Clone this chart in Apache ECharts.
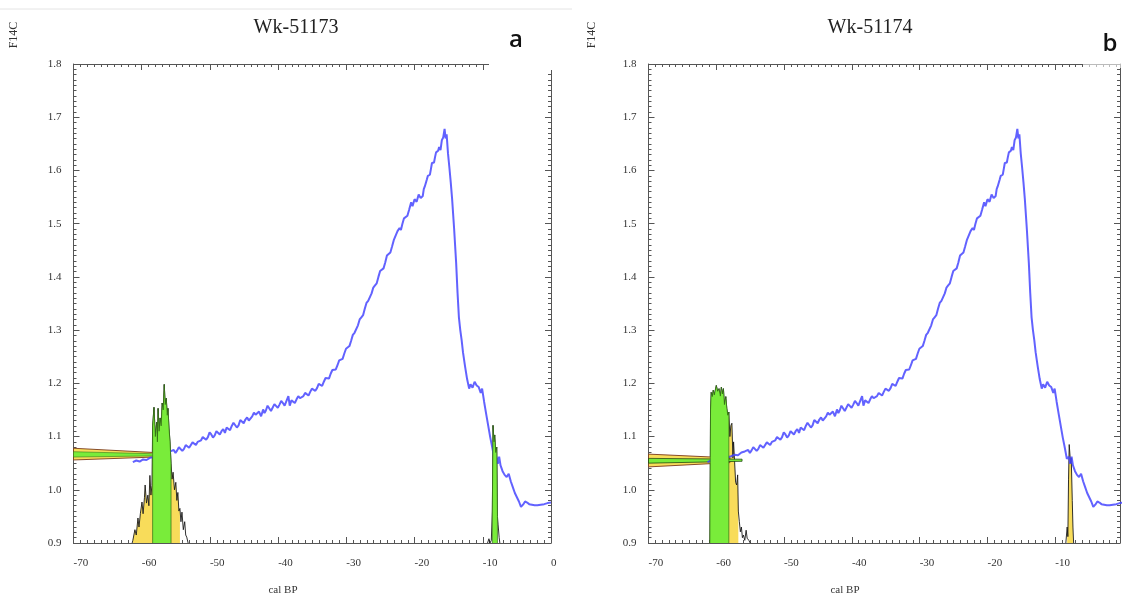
<!DOCTYPE html>
<html><head><meta charset="utf-8">
<script src="https://cdn.jsdelivr.net/npm/echarts@6/dist/echarts.min.js"></script>
<style>html,body{margin:0;padding:0;background:#fff}#c{width:1123px;height:596px}</style>
</head><body><div id="c"></div>
<script>
// ---------- data ----------
const titles = ['Wk-51173', 'Wk-51174'];
const panelTags = ['a', 'b'];
const xTickLabels = [-70, -60, -50, -40, -30, -20, -10, 0];
const yTickLabels = [0.9, 1.0, 1.1, 1.2, 1.3, 1.4, 1.5, 1.6, 1.7, 1.8];
const BASE = 0.9;

// calibration curve (cal BP, F14C)
const curveX = [-61.3,-60.8,-60.3,-59.8,-59.3,-58.8,-58.3,-57.8,-57.3,-56.8,-56.3,-55.8,
  -55.3,-55.05,-54.8,-54.55,-54.3,-54.05,-53.8,-53.55,-53.3,-53.05,-52.8,-52.55,-52.3,-52.05,-51.8,-51.55,-51.3,-51.05,-50.8,-50.55,-50.3,-50.05,
  -49.8,-49.55,-49.3,-49.05,-48.8,-48.55,-48.3,-48.05,-47.8,-47.55,-47.3,-47.05,-46.8,-46.55,-46.3,-46.05,-45.8,-45.55,-45.3,-45.05,
  -44.8,-44.55,-44.3,-44.05,-43.8,-43.55,-43.3,-43.05,-42.8,-42.5,-42.2,-42.0,-41.8,-41.55,-41.3,-41.05,-40.8,-40.55,-40.3,-40.05,
  -39.8,-39.55,-39.3,-39.05,-38.8,-38.5,-38.3,-38.05,-37.8,-37.55,-37.3,-37.05,-36.8,-36.55,-36.3,-36.05,-35.8,-35.55,-35.3,-35.05,
  -34.8,-34.55,-34.3,-34.05,-33.8,-33.55,-33.3,-33.05,-32.8,-32.55,-32.3,-32.05,-31.8,-31.55,-31.3,-31.05,-30.8,-30.55,-30.3,-30.05,
  -29.8,-29.55,-29.3,-29.05,-28.8,-28.55,-28.3,-28.05,-27.8,-27.55,-27.3,-27.05,-26.8,-26.55,-26.3,-26.05,-25.8,-25.55,-25.3,-25.05,
  -24.8,-24.55,-24.3,-24.05,-23.8,-23.55,-23.3,-23.05,-22.8,-22.5,-22.2,-22.0,-21.8,-21.55,-21.3,-21.05,-20.8,-20.5,-20.3,-20.0,
  -19.7,-19.4,-19.1,-18.8,-18.65,-18.5,-18.35,-18.2,-18.05,-17.9,-17.75,-17.6,-17.45,-17.3,-17.15,-17.0,-16.85,-16.7,-16.55,-16.4,-16.2,-16.0,
  -15.8,-15.6,-15.45,-15.3,-15.1,-14.9,-14.7,-14.5,-14.2,-13.9,-13.7,-13.5,-13.3,-13.1,-12.9,-12.6,-12.3,-12.0,-11.8,-11.5,-11.2,-10.9,-10.6,-10.3,-10.1,
  -9.8,-9.5,-9.2,-8.9,-8.6,-8.3,-8.0,-7.8,-7.6,-7.4,-7.1,-6.8,-6.5,-6.2,-5.9,-5.6,-5.3,-5.0,-4.7,-4.4,-4.1,-3.8,-3.5,-3.2,-2.8,-2.4,-2.0,-1.5,-1.0,-0.5,0];
const curveY = [1.052,1.055,1.053,1.057,1.056,1.060,1.061,1.063,1.066,1.065,1.070,1.072,
  1.075,1.069,1.074,1.080,1.078,1.073,1.077,1.084,1.081,1.079,1.082,1.089,1.086,1.084,1.090,1.088,1.093,1.099,1.096,1.094,1.099,1.108,
  1.104,1.098,1.102,1.110,1.108,1.104,1.110,1.114,1.107,1.117,1.115,1.112,1.120,1.126,1.123,1.117,1.121,1.131,1.128,1.125,
  1.132,1.136,1.130,1.133,1.138,1.145,1.141,1.139,1.147,1.138,1.151,1.144,1.149,1.158,1.155,1.148,1.151,1.161,1.158,1.154,
  1.160,1.167,1.163,1.158,1.161,1.176,1.158,1.168,1.166,1.163,1.170,1.176,1.172,1.169,1.176,1.182,1.179,1.177,1.184,1.190,
  1.188,1.186,1.191,1.199,1.197,1.195,1.203,1.210,1.211,1.209,1.218,1.225,1.226,1.226,1.234,1.243,1.245,1.246,1.256,1.265,
  1.268,1.270,1.280,1.291,1.295,1.298,1.309,1.320,1.324,1.328,1.340,1.351,1.355,1.358,1.369,1.380,1.384,1.388,1.400,1.411,
  1.414,1.416,1.427,1.440,1.443,1.446,1.457,1.469,1.471,1.486,1.492,1.488,1.499,1.510,1.512,1.515,1.526,1.540,1.533,1.546,
  1.541,1.555,1.548,1.552,1.565,1.570,1.569,1.583,1.590,1.592,1.592,1.603,1.614,1.612,1.615,1.625,1.634,1.631,1.637,1.644,1.638,1.657,
  1.662,1.678,1.660,1.668,1.632,1.606,1.578,1.547,1.490,1.425,1.370,1.324,1.300,1.281,1.258,1.232,1.208,1.190,1.198,1.192,1.203,1.196,1.193,1.182,1.190,
  1.165,1.142,1.120,1.098,1.079,1.058,1.062,1.049,1.062,1.046,1.035,1.028,1.024,1.030,1.016,1.005,0.994,0.986,0.978,0.968,0.972,0.978,0.976,0.973,0.972,0.971,0.971,0.972,0.973,0.975,0.976];

// panel a : posterior distribution (main range)
const distAX = [-61.4,-61.3,-61.0,-60.8,-60.55,-60.4,-60.2,-59.96,-59.8,-59.6,-59.5,-59.3,-59.1,-58.95,-58.8,-58.65,-58.5,-58.4,-58.2,-58.0,-57.8,-57.7,-57.6,-57.45,-57.3,-57.15,-57.0,-56.85,-56.7,-56.55,-56.4,-56.25,-56.15,-56.0,-55.85,-55.7,-55.55,-55.4,-55.2,-55.0,-54.85,-54.7,-54.55,-54.4,-54.25,-54.1,-53.9,-53.7,-53.55,-53.4,-53.2];
const distAY = [0.900,0.905,0.925,0.915,0.947,0.930,0.955,0.977,0.955,0.985,1.009,0.975,0.990,0.970,1.027,0.990,1.008,1.120,1.155,1.100,1.127,1.090,1.153,1.110,1.135,1.120,1.163,1.150,1.198,1.160,1.172,1.140,1.153,1.116,1.090,1.050,1.020,1.033,1.000,1.014,0.980,0.995,0.960,0.965,0.940,0.958,0.925,0.940,0.915,0.911,0.900];
const rangeA95 = [-61.3, -54.4];
const rangeA68 = [-58.4, -55.7];
// panel a : posterior distribution (bomb-side range)
const distA2X = [-9.3,-9.1,-8.95,-8.75,-8.6,-8.5,-8.35,-8.25,-8.1,-7.95,-7.85,-7.75,-7.6,-7.5];
const distA2Y = [0.900,0.908,0.900,0.905,0.960,1.121,1.090,1.103,1.070,1.080,0.950,0.934,0.910,0.900];
const rangeA2 = [-8.6, -7.85];

// panel b : posterior distribution (main range)
const distBX = [-60.95,-60.85,-60.75,-60.6,-60.45,-60.3,-60.0,-59.8,-59.6,-59.4,-59.25,-59.1,-58.95,-58.8,-58.6,-58.45,-58.3,-58.15,-58.0,-57.85,-57.7,-57.55,-57.45,-57.3,-57.15,-57.0,-56.85,-56.75,-56.6,-56.45,-56.3,-56.15,-56.0,-55.8,-55.6,-55.45,-55.2,-55.0];
const distBY = [0.900,1.150,1.183,1.175,1.187,1.178,1.196,1.185,1.190,1.176,1.193,1.180,1.190,1.160,1.175,1.153,1.140,1.146,1.100,1.121,1.125,1.060,1.090,1.052,1.014,1.009,1.028,0.960,0.940,0.921,0.930,0.910,0.915,0.905,0.924,0.909,0.905,0.900];
const rangeB95 = [-60.95, -56.75];
const rangeB68 = [-60.95, -58.15];
// panel b : posterior distribution (bomb-side range)
const distB2X = [-8.45,-8.35,-8.25,-8.15,-8.05,-7.95,-7.85,-7.75,-7.65,-7.5,-7.4,-7.3];
const distB2Y = [0.900,0.915,0.930,0.912,1.020,1.085,1.088,1.050,1.060,0.980,0.930,0.900];
const rangeB2 = [-8.25, -7.4];

// measured F14C likelihood bands (x extent, outer top/bottom, inner top/bottom)
const bandAX = [-70, -56.0];
const bandAOuterTop = [1.078, 1.0685];
const bandAOuterBot = [1.056, 1.0625];
const bandAInnerTop = [1.0715, 1.067];
const bandAInnerBot = [1.0615, 1.064];
const bandBX = [-70, -58.0];
const bandBOuterTop = [1.067, 1.060];
const bandBOuterBot = [1.043, 1.051];
const bandBInnerX = [-70, -56.2];
const bandBInnerTop = [1.059, 1.0575];
const bandBInnerBot = [1.050, 1.0535];

// ---------- build ----------
const SERIF = 'Liberation Serif';
const AX = '#555';
const YELLOW = '#f8dc5a';
const GREEN = '#79ec3a';
const BLUE = '#4646ff';

function pairs(xs, ys) { return xs.map((x, i) => [x, ys[i]]); }
function seg(xs, ys, lo, hi) {
  const out = [[lo, BASE]];
  xs.forEach((x, i) => { if (x >= lo - 1e-9 && x <= hi + 1e-9) out.push([x, ys[i]]); });
  out.push([hi, BASE]);
  return out;
}
function xAx(gi, max, pos, labels) {
  return {
    type: 'value', gridIndex: gi, min: -70, max: max, interval: 10, position: pos,
    axisLine: { show: true, onZero: false, lineStyle: { color: AX, width: 1 } },
    axisTick: { show: true, inside: true, length: 6, lineStyle: { color: AX } },
    minorTick: { show: true, splitNumber: 10, length: 3, lineStyle: { color: AX } },
    splitLine: { show: false }, minorSplitLine: { show: false },
    axisLabel: {
      show: labels, align: 'left', margin: 15, fontFamily: SERIF, fontSize: 11, color: '#333',
      formatter: v => xTickLabels.indexOf(Math.round(v)) >= 0 && Math.abs(v - Math.round(v)) < 1e-6 ? String(Math.round(v)) : ''
    }
  };
}
function yAx(gi, pos, labels) {
  return {
    type: 'value', gridIndex: gi, min: 0.9, max: 1.8, interval: 0.1, position: pos,
    axisLine: { show: true, onZero: false, lineStyle: { color: AX, width: 1 } },
    axisTick: { show: true, inside: true, length: 6, lineStyle: { color: AX } },
    minorTick: { show: true, splitNumber: 10, length: 3, lineStyle: { color: AX } },
    splitLine: { show: false },
    axisLabel: { show: labels, margin: 12, fontFamily: SERIF, fontSize: 11, color: '#333',
      formatter: v => { const r = Math.round(v * 10) / 10; return yTickLabels.indexOf(r) >= 0 ? r.toFixed(1) : ''; } }
  };
}
function areaSeries(p, data, color, lineColor, lineW, z) {
  return {
    type: 'line', xAxisIndex: p * 2, yAxisIndex: p * 2, data: data, showSymbol: false, symbol: 'none',
    lineStyle: { color: lineColor, width: lineW }, areaStyle: { color: color, opacity: 1, origin: 'start' },
    z: z, silent: true, animation: false, clip: true
  };
}
function outlineSeries(p, data, z) {
  return {
    type: 'line', xAxisIndex: p * 2, yAxisIndex: p * 2, data: data, showSymbol: false, symbol: 'none',
    lineStyle: { color: '#1a1a1a', width: 0.9 }, z: z, silent: true, animation: false
  };
}
function bandSeries(p, xs, top, bot, fill, stroke, z) {
  return {
    type: 'custom', xAxisIndex: p * 2, yAxisIndex: p * 2, z: z, silent: true, animation: false,
    data: [[xs[0], top[0]]],
    renderItem: (params, api) => {
      const pts = [];
      xs.forEach((x, i) => pts.push(api.coord([x, top[i]])));
      for (let i = xs.length - 1; i >= 0; i--) pts.push(api.coord([xs[i], bot[i]]));
      return { type: 'polygon', shape: { points: pts }, style: { fill: fill, stroke: stroke, lineWidth: 0.9 } };
    }
  };
}
function curveSeries(p) {
  return {
    type: 'line', xAxisIndex: p * 2, yAxisIndex: p * 2, data: pairs(curveX, curveY), showSymbol: false, symbol: 'none',
    lineStyle: { color: BLUE, width: 2, opacity: 0.85 }, z: 5, silent: true, animation: false, clip: true
  };
}

const series = [];
// panel a
series.push(areaSeries(0, seg(distAX, distAY, rangeA95[0], rangeA95[1]), YELLOW, 'rgba(0,0,0,0)', 0, 2));
series.push(outlineSeries(0, pairs(distAX, distAY), 3));
series.push(outlineSeries(0, pairs(distA2X, distA2Y), 3));
series.push(bandSeries(0, bandAX, bandAOuterTop, bandAOuterBot, YELLOW, '#7a3a1c', 4));
series.push(bandSeries(0, bandAX, bandAInnerTop, bandAInnerBot, GREEN, 'rgba(40,110,20,0.6)', 4));
series.push(curveSeries(0));
series.push(areaSeries(0, seg(distAX, distAY, rangeA68[0], rangeA68[1]), GREEN, '#2f6d12', 0.7, 6));
series.push(areaSeries(0, seg(distA2X, distA2Y, rangeA2[0], rangeA2[1]), GREEN, '#2f6d12', 0.7, 6));
// panel b
series.push(areaSeries(1, seg(distBX, distBY, rangeB95[0], rangeB95[1]), YELLOW, 'rgba(0,0,0,0)', 0, 2));
series.push(areaSeries(1, seg(distB2X, distB2Y, rangeB2[0], rangeB2[1]), YELLOW, 'rgba(0,0,0,0)', 0, 2));
series.push(outlineSeries(1, pairs(distBX, distBY), 3));
series.push(outlineSeries(1, pairs(distB2X, distB2Y), 3));
series.push(bandSeries(1, bandBX, bandBOuterTop, bandBOuterBot, YELLOW, '#7a3a1c', 4));
series.push(bandSeries(1, bandBInnerX, bandBInnerTop, bandBInnerBot, GREEN, 'rgba(20,60,10,0.8)', 4));
series.push(curveSeries(1));
series.push(areaSeries(1, seg(distBX, distBY, rangeB68[0], rangeB68[1]), GREEN, '#2f6d12', 0.7, 6));

const chart = echarts.init(document.getElementById('c'), null, { renderer: 'canvas' });
chart.setOption({
  backgroundColor: '#fff',
  animation: false,
  grid: [
    { left: 73.5, top: 64, width: 477.5, height: 479 },
    { left: 648.5, top: 64, width: 471.5, height: 479 }
  ],
  xAxis: [xAx(0, 0, 'bottom', true), xAx(0, 0, 'top', false), xAx(1, -0.46, 'bottom', true), xAx(1, -0.46, 'top', false)],
  yAxis: [yAx(0, 'left', true), yAx(0, 'right', false), yAx(1, 'left', true), yAx(1, 'right', false)],
  series: series,
  graphic: [
    { type: 'line', shape: { x1: 0, y1: 9, x2: 572, y2: 9 }, style: { stroke: '#e4e4e4', lineWidth: 1 }, z: 1 },
    { type: 'rect', shape: { x: 489, y: 58, width: 63, height: 12 }, style: { fill: '#fff' }, z: 100 },
    { type: 'rect', shape: { x: 1083, y: 58, width: 40, height: 10 }, style: { fill: 'rgba(255,255,255,0.6)' }, z: 100 },
    { type: 'text', x: 296, y: 28, style: { text: titles[0], font: '20px "Liberation Serif"', fill: '#222', textAlign: 'center', textVerticalAlign: 'middle' }, z: 101 },
    { type: 'text', x: 870, y: 28, style: { text: titles[1], font: '20px "Liberation Serif"', fill: '#222', textAlign: 'center', textVerticalAlign: 'middle' }, z: 101 },
    { type: 'text', x: 516, y: 40, style: { text: panelTags[0], font: '600 24px "Open Sans"', fill: '#111', textAlign: 'center', textVerticalAlign: 'middle' }, z: 101 },
    { type: 'text', x: 1110, y: 44, style: { text: panelTags[1], font: '600 24px "Open Sans"', fill: '#111', textAlign: 'center', textVerticalAlign: 'middle' }, z: 101 },
    { type: 'text', x: 14, y: 35, rotation: Math.PI / 2, style: { text: 'F14C', font: '12px "Liberation Serif"', fill: '#333', textAlign: 'center', textVerticalAlign: 'middle' }, z: 101 },
    { type: 'text', x: 592, y: 35, rotation: Math.PI / 2, style: { text: 'F14C', font: '12px "Liberation Serif"', fill: '#333', textAlign: 'center', textVerticalAlign: 'middle' }, z: 101 },
    { type: 'text', x: 283, y: 590, style: { text: 'cal BP', font: '11px "Liberation Serif"', fill: '#333', textAlign: 'center', textVerticalAlign: 'middle' }, z: 101 },
    { type: 'text', x: 845, y: 590, style: { text: 'cal BP', font: '11px "Liberation Serif"', fill: '#333', textAlign: 'center', textVerticalAlign: 'middle' }, z: 101 }
  ]
});
</script></body></html>
